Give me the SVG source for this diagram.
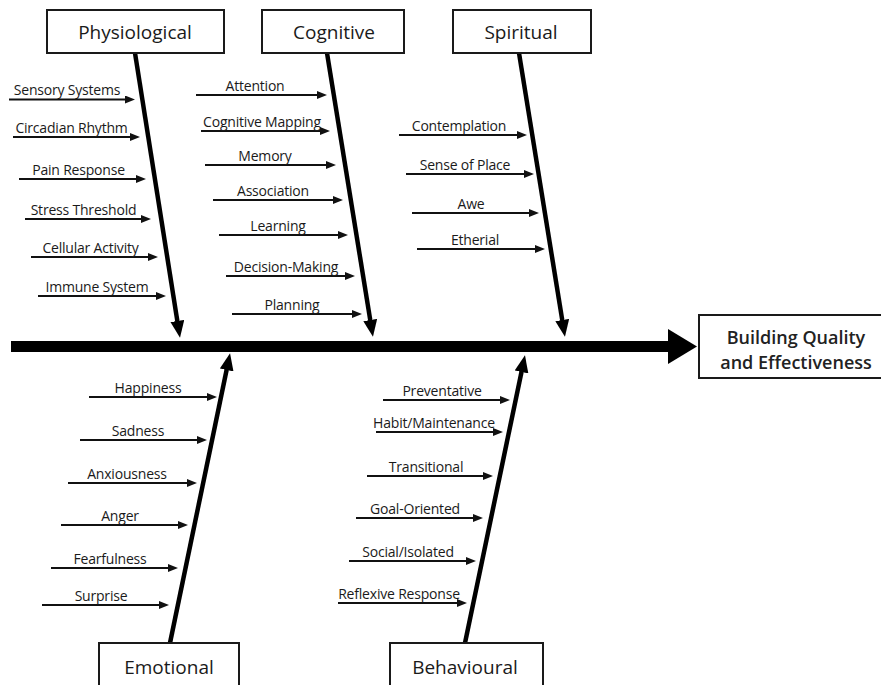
<svg xmlns="http://www.w3.org/2000/svg" width="881" height="685" viewBox="0 0 881 685">
  <style>
    .box { fill: #fff; stroke: #1a1a1a; stroke-width: 2; }
    .head { font-family: "Open Sans", "Liberation Sans", sans-serif; font-size: 19px; fill: #1a1a1a; text-anchor: middle; }
    .result { font-family: "Open Sans", "Liberation Sans", sans-serif; font-size: 18px; font-weight: 600; fill: #222; text-anchor: middle; }
    .lbl { font-family: "Open Sans", "Liberation Sans", sans-serif; font-size: 14px; fill: #1a1a1a; text-anchor: middle; letter-spacing: -0.2px; }
    .spine { stroke: #000; stroke-width: 4.5; fill: none; }
    .rib { stroke: #111; stroke-width: 2; fill: none; }
  </style>
  <defs>
    <marker id="bigHead" markerUnits="userSpaceOnUse" viewBox="0 -7 17 14" refX="1" refY="0" markerWidth="17" markerHeight="14" orient="auto">
      <path d="M0,-7 L17,0 L0,7 z" fill="#000"/>
    </marker>
    <marker id="smallHead" markerUnits="userSpaceOnUse" viewBox="0 -4 10 8" refX="1" refY="0" markerWidth="10" markerHeight="8" orient="auto">
      <path d="M0,-4 L10,0 L0,4 z" fill="#111"/>
    </marker>
  </defs>

  <!-- connectors: main backbone, category spines and cause arrows -->
  <g id="connectors">
    <rect x="11" y="341" width="659" height="11" fill="#000"/>
    <polygon points="668,329 697,346.5 668,364" fill="#000"/>

    <line class="spine" x1="135" y1="53" x2="177.5" y2="322" marker-end="url(#bigHead)"/>
    <line class="spine" x1="327" y1="53" x2="370.4" y2="321" marker-end="url(#bigHead)"/>
    <line class="spine" x1="519" y1="53" x2="562.4" y2="321" marker-end="url(#bigHead)"/>
    <line class="spine" x1="170" y1="643" x2="226.8" y2="369" marker-end="url(#bigHead)"/>
    <line class="spine" x1="465" y1="643" x2="521.7" y2="371" marker-end="url(#bigHead)"/>

    <!-- physiological causes -->
    <g class="rib" marker-end="url(#smallHead)">
      <line x1="9" y1="99.5" x2="126" y2="99.5"/>
      <line x1="13" y1="137" x2="131" y2="137"/>
      <line x1="19" y1="179" x2="137" y2="179"/>
      <line x1="25" y1="219" x2="142" y2="219"/>
      <line x1="31" y1="257" x2="149" y2="257"/>
      <line x1="38" y1="296" x2="157" y2="296"/>
    </g>
    <!-- cognitive causes -->
    <g class="rib" marker-end="url(#smallHead)">
      <line x1="196" y1="95" x2="318" y2="95"/>
      <line x1="201" y1="131" x2="321" y2="131"/>
      <line x1="205" y1="165" x2="327" y2="165"/>
      <line x1="213" y1="200" x2="334" y2="200"/>
      <line x1="219" y1="235" x2="339" y2="235"/>
      <line x1="226" y1="276" x2="346" y2="276"/>
      <line x1="232" y1="314" x2="353" y2="314"/>
    </g>
    <!-- spiritual causes -->
    <g class="rib" marker-end="url(#smallHead)">
      <line x1="399" y1="135" x2="518" y2="135"/>
      <line x1="406" y1="174" x2="525" y2="174"/>
      <line x1="412" y1="213" x2="530" y2="213"/>
      <line x1="417" y1="249" x2="536" y2="249"/>
    </g>
    <!-- emotional causes -->
    <g class="rib" marker-end="url(#smallHead)">
      <line x1="89" y1="397" x2="208" y2="397"/>
      <line x1="80" y1="440" x2="198" y2="440"/>
      <line x1="68" y1="483" x2="188" y2="483"/>
      <line x1="61" y1="525" x2="179" y2="525"/>
      <line x1="51" y1="568" x2="169" y2="568"/>
      <line x1="42" y1="605" x2="160" y2="605"/>
    </g>
    <!-- behavioural causes -->
    <g class="rib" marker-end="url(#smallHead)">
      <line x1="383" y1="400" x2="501" y2="400"/>
      <line x1="376" y1="432" x2="494" y2="432"/>
      <line x1="367" y1="476" x2="484" y2="476"/>
      <line x1="356" y1="518" x2="474" y2="518"/>
      <line x1="349" y1="561" x2="467" y2="561"/>
      <line x1="338" y1="603" x2="458" y2="603"/>
    </g>
  </g>

  <!-- category nodes -->
  <g id="physiological">
    <rect class="box" x="47" y="10" width="177" height="43"/>
    <text class="head" x="135" y="39">Physiological</text>
    <text class="lbl" x="67" y="95">Sensory Systems</text>
    <text class="lbl" x="71.5" y="133">Circadian Rhythm</text>
    <text class="lbl" x="78.5" y="175">Pain Response</text>
    <text class="lbl" x="83.5" y="215">Stress Threshold</text>
    <text class="lbl" x="90.5" y="253">Cellular Activity</text>
    <text class="lbl" x="97" y="292">Immune System</text>
  </g>

  <g id="cognitive">
    <rect class="box" x="262" y="10" width="142" height="43"/>
    <text class="head" x="334" y="39">Cognitive</text>
    <text class="lbl" x="255" y="91">Attention</text>
    <text class="lbl" x="262" y="127">Cognitive Mapping</text>
    <text class="lbl" x="265" y="161">Memory</text>
    <text class="lbl" x="273" y="196">Association</text>
    <text class="lbl" x="278" y="231">Learning</text>
    <text class="lbl" x="286" y="272">Decision-Making</text>
    <text class="lbl" x="292" y="310">Planning</text>
  </g>

  <g id="spiritual">
    <rect class="box" x="453" y="10" width="138" height="43"/>
    <text class="head" x="521" y="39">Spiritual</text>
    <text class="lbl" x="459" y="131">Contemplation</text>
    <text class="lbl" x="465" y="170">Sense of Place</text>
    <text class="lbl" x="471" y="209">Awe</text>
    <text class="lbl" x="475" y="245">Etherial</text>
  </g>

  <g id="emotional">
    <rect class="box" x="99" y="643" width="140" height="50"/>
    <text class="head" x="169" y="674">Emotional</text>
    <text class="lbl" x="148" y="393">Happiness</text>
    <text class="lbl" x="138" y="436">Sadness</text>
    <text class="lbl" x="127" y="479">Anxiousness</text>
    <text class="lbl" x="120" y="521">Anger</text>
    <text class="lbl" x="110" y="564">Fearfulness</text>
    <text class="lbl" x="101" y="601">Surprise</text>
  </g>

  <g id="behavioural">
    <rect class="box" x="390" y="643" width="153" height="50"/>
    <text class="head" x="465" y="674">Behavioural</text>
    <text class="lbl" x="442" y="396">Preventative</text>
    <text class="lbl" x="434" y="428">Habit/Maintenance</text>
    <text class="lbl" x="426" y="472">Transitional</text>
    <text class="lbl" x="415" y="514">Goal-Oriented</text>
    <text class="lbl" x="408" y="557">Social/Isolated</text>
    <text class="lbl" x="399" y="599">Reflexive Response</text>
  </g>

  <!-- effect node -->
  <g id="effect">
    <rect class="box" x="699" y="315" width="190" height="63"/>
    <text class="result" x="796" y="344">Building Quality</text>
    <text class="result" x="796" y="369">and Effectiveness</text>
  </g>
</svg>
